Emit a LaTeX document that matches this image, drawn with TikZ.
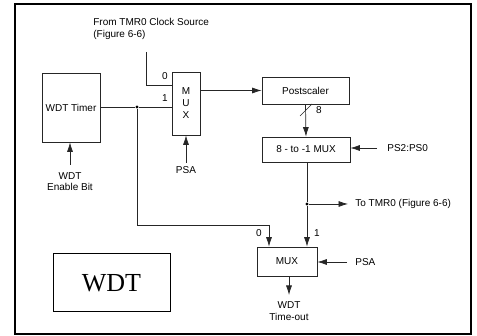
\documentclass[tikz,border=0pt]{standalone}
\usepackage{fontspec}
\setmainfont{Liberation Serif}
\newfontfamily\arialf{Liberation Sans}
\usetikzlibrary{arrows.meta}
\begin{document}
\begin{tikzpicture}[x=1pt,y=-1pt, line width=0.7pt, draw=black!85,
  sf/.style={font=\arialf\fontsize{10}{11.5}\selectfont},
  blk/.style={draw, inner sep=0pt, sf, align=center},
  lbl/.style={inner sep=0pt, sf, align=center},
  arr/.style={-{Latex[length=9.5pt,width=6pt]}},
  dot/.style={circle, fill=black, inner sep=0pt, minimum size=3.4pt}]
\useasboundingbox (0,0) rectangle (477,336);
\draw[line width=1.2pt, black] (15,4) rectangle (471,334);
% blocks
\node[blk, minimum width=58pt, minimum height=69pt] (timer) at (71,107.5) {WDT Timer};
\node[blk, minimum width=28pt, minimum height=63pt, font=\arialf\fontsize{10}{12}\selectfont] (mux1) at (186,103.5) {M\\U\\X};
\node[blk, minimum width=87pt, minimum height=27pt] (post) at (305.5,90.5) {Postscaler};
\node[blk, minimum width=88pt, minimum height=25pt] (mux8) at (306,149.5) {8 - to -1 MUX};
\node[blk, minimum width=60pt, minimum height=29pt] (mux2) at (287,261.5) {MUX};
\node[draw, line width=1pt, black, minimum width=117pt, minimum height=58pt, inner sep=0pt,
  font=\fontsize{26}{30}\selectfont] (wdtbox) at (111.5,283) {WDT};
% labels
\node[lbl, align=left, anchor=north west] (clk) at (93,18) {From TMR0 Clock Source\\(Figure 6-6)};
\node[lbl] (l0a) at (165,76) {0};
\node[lbl] (l1a) at (165,98) {1};
\node[lbl] (en) at (70,181.5) {WDT\\Enable Bit};
\node[lbl] (psa1) at (186,170) {PSA};
\node[lbl] (eight) at (319,110) {8};
\node[lbl, anchor=west] (ps) at (387,148) {PS2:PS0};
\node[lbl, anchor=west] (totmr) at (355,204) {To TMR0 (Figure 6-6)};
\node[lbl] (l0b) at (259,233) {0};
\node[lbl] (l1b) at (317,233) {1};
\node[lbl, anchor=west] (psa2) at (355,262) {PSA};
\node[lbl] (tout) at (289,311) {WDT\\Time-out};
% coordinates
\coordinate (ck1) at (146,52);
\coordinate (ck2) at (146,85);
\node[dot] (d1) at (137,107) {};
\coordinate (d1b) at (137,225);
\coordinate (in0) at (269,225);
\node[dot] (d2) at (307,204) {};
\coordinate (totmrA) at (348,204);
\coordinate (psa1s) at (186,163);
\coordinate (ens) at (70,165);
\coordinate (pss) at (377,148);
\coordinate (psa2s) at (347,262);
\coordinate (outE) at (289,295);
% connectors
\draw (ck1) -- (ck2) -- (ck2 -| mux1.west);
\draw (timer.east |- d1) -- (d1) -- (d1 -| mux1.west);
\draw (d1) -- (d1b) -- (in0);
\draw[arr] (in0) -- (in0 |- mux2.north);
\draw[arr] (mux1.east |- post.west) -- (post.west);
\draw[arr] (post.south) -- (mux8.north);
\draw (300,116) -- (312,104);
\draw[arr] (pss) -- (mux8.east |- pss);
\draw (mux8.south -| d2) -- (d2);
\draw[arr] (d2) -- (d2 |- mux2.north);
\draw[arr] (d2) -- (totmrA);
\draw[arr] (psa2s) -- (mux2.east |- psa2s);
\draw[arr] (mux2.south -| outE) -- (outE);
\draw[arr] (psa1s) -- (mux1.south);
\draw[arr] (ens) -- (ens |- timer.south);
\end{tikzpicture}
\end{document}
